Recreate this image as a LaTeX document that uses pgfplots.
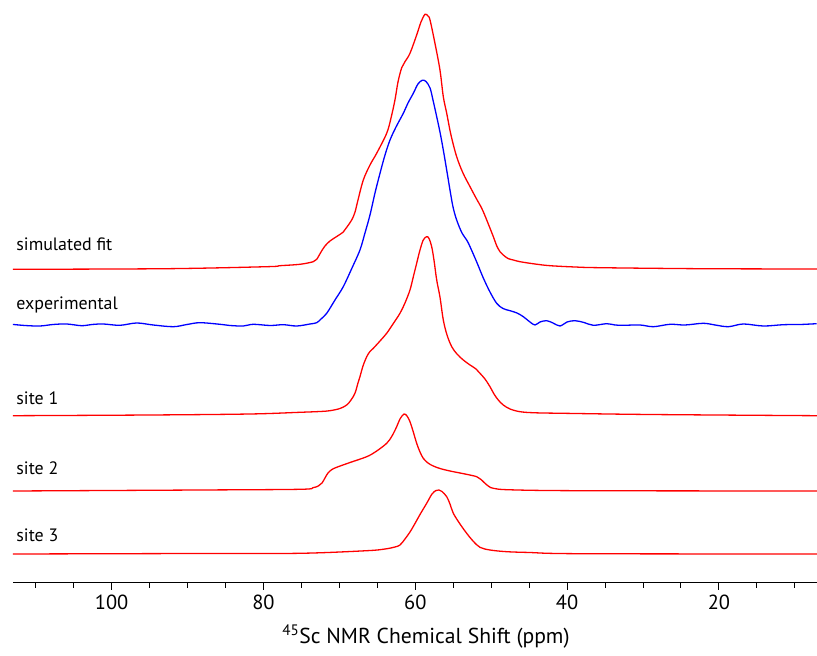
\documentclass[border=0pt]{standalone}
\usepackage{pgfplots}
\pgfplotsset{compat=1.18}
\usepackage{fontspec}
\setmainfont{PT Sans}
\definecolor{specred}{RGB}{255,0,0}
\definecolor{specblue}{RGB}{0,0,255}
\begin{document}
\begin{tikzpicture}
\begin{axis}[
  scale only axis,
  width=804bp, height=582.7bp,
  x dir=reverse,
  xmin=7.08, xmax=113.0,
  ymin=73.3, ymax=656,
  axis x line*=bottom,
  axis y line=none,
  axis line style={line width=1.2bp, black},
  xtick={20,40,60,80,100},
  minor xtick={10,15,25,30,35,45,50,55,65,70,75,85,90,95,105,110},
  tick align=outside,
  major tick length=7bp,
  minor tick length=5bp,
  every tick/.style={black, line width=1bp},
  xtick pos=bottom,
  /pgf/number format/assume math mode=true,
  xticklabel style={font=\fontsize{20.5}{24}\selectfont, yshift=-2bp},
  clip mode=individual,
  every axis plot/.append style={line width=1.3bp, smooth, tension=0.55},
]
% simulated fit
\addplot[specred] coordinates {
(113.00,386.7) (92.75,387.3) (79.58,389.3) (77.83,390.3) (75.19,391.7) (73.44,394.3)
(72.99,396.7) (72.42,404.0) (71.90,410.0) (71.24,415.0) (70.45,419.0) (69.49,424.0)
(69.00,429.0) (68.38,436.0) (67.95,443.7) (67.55,456.0) (66.85,476.0) (65.97,491.0)
(65.09,502.7) (63.77,522.7) (63.20,538.0) (62.68,556.0) (62.28,574.0) (61.79,588.3)
(61.36,594.3) (60.70,602.7) (59.82,621.0) (59.25,634.0) (58.72,641.7) (58.33,640.0)
(58.06,636.0) (57.41,612.7) (56.75,586.0) (56.31,559.3) (55.86,542.7) (55.30,521.0)
(54.55,499.3) (53.72,483.0) (52.79,469.3) (52.00,458.0) (51.25,447.7) (50.59,436.0)
(49.72,419.3) (49.28,410.3) (48.84,404.3) (48.41,401.0) (47.79,397.5) (47.09,396.0)
(46.21,394.3) (44.23,392.0) (42.25,390.3) (38.96,389.0) (35.67,388.3) (22.49,387.3)
(7.08,387.0)
};
% experimental
\addplot[specblue] coordinates {
(113.18,331.7) (111.42,330.5) (109.45,330.0) (107.73,331.5) (105.93,332.0) (103.95,330.3)
(102.60,331.5) (101.11,332.0) (98.91,330.7) (96.71,333.0) (94.52,331.0) (91.88,329.3)
(90.08,331.5) (88.37,333.3) (85.73,331.7) (84.41,330.5) (82.66,330.0) (81.34,331.7)
(79.14,330.5) (77.39,331.3) (75.63,330.0) (73.87,332.0) (72.99,333.3) (72.42,337.0)
(71.67,342.7) (70.58,356.0) (69.49,369.3) (68.34,388.0) (67.29,406.0) (66.63,423.0)
(65.97,441.0) (65.31,463.0) (64.65,482.7) (63.99,501.0) (63.33,516.0) (62.54,529.0)
(61.58,542.7) (60.96,553.0) (60.26,562.7) (59.65,572.0) (59.08,575.7) (58.59,574.5)
(58.06,568.0) (57.67,556.0) (57.18,539.3) (56.75,524.0) (56.31,506.0) (55.82,484.0)
(55.43,466.0) (55.03,449.0) (54.55,436.0) (53.85,423.0) (53.23,416.0) (52.79,409.3)
(51.91,394.0) (51.04,378.0) (50.16,364.0) (49.28,352.7) (48.45,347.5) (47.52,345.3)
(46.60,343.0) (45.77,339.3) (44.89,334.0) (44.23,331.0) (43.57,334.0) (42.69,335.3)
(41.86,333.0) (40.94,330.0) (40.01,334.0) (38.96,335.3) (37.77,333.5) (36.55,330.7)
(34.78,332.3) (33.69,331.0) (32.60,330.7) (30.40,331.0) (28.64,329.3) (26.44,331.7)
(24.47,331.0) (22.06,332.7) (20.51,331.0) (18.76,329.3) (16.79,332.0) (14.15,330.0)
(11.52,331.3) (9.32,331.5) (7.12,332.3)
};
% site 1
\addplot[specred] coordinates {
(113.00,240.3) (94.95,241.0) (81.78,242.0) (75.19,243.7) (72.56,244.5) (71.24,245.3)
(69.92,247.5) (69.04,251.0) (68.47,256.0) (67.95,262.7) (67.55,273.0) (67.29,279.3)
(66.89,290.0) (66.40,299.3) (65.97,304.5) (65.53,307.7) (64.65,315.0) (63.77,322.7)
(62.94,332.0) (62.02,342.7) (61.36,353.0) (60.70,366.0) (60.30,378.0) (59.82,392.7)
(59.38,406.0) (58.95,416.0) (58.50,419.3) (58.19,417.5) (57.84,409.3) (57.54,396.0)
(57.18,376.0) (56.75,359.0) (56.31,336.0) (55.82,321.0) (55.20,309.3) (54.51,302.0)
(53.68,296.0) (52.79,291.0) (52.00,287.0) (51.48,282.7) (50.82,277.0) (50.16,269.3)
(49.63,262.0) (49.07,256.0) (48.41,251.0) (47.52,247.0) (46.21,244.3) (44.23,243.2)
(40.54,242.7) (29.08,241.5) (7.08,240.3)
};
% site 2
\addplot[specred] coordinates {
(113.00,165.0) (88.37,166.0) (75.19,166.7) (73.48,168.3) (72.78,170.0) (72.29,173.0)
(71.90,178.0) (71.50,183.0) (70.98,186.5) (70.36,188.7) (68.60,193.5) (66.40,199.3)
(65.18,204.5) (63.77,212.7) (63.07,220.0) (62.45,229.3) (62.02,237.0) (61.49,242.0)
(61.09,240.0) (60.70,234.3) (60.30,225.0) (59.82,212.7) (59.38,204.0) (58.95,197.7)
(58.33,193.0) (57.63,190.0) (56.75,187.5) (55.43,185.0) (53.45,182.0) (51.91,179.3)
(51.34,176.5) (50.82,172.7) (50.29,169.5) (49.72,167.7) (47.52,166.2) (38.30,165.3)
(7.08,165.0)
};
% site 3
\addplot[specred] coordinates {
(113.00,102.0) (88.37,102.5) (75.19,102.7) (66.40,105.3) (63.99,107.0) (62.68,109.0)
(62.02,111.0) (61.36,117.0) (60.70,124.0) (60.04,132.5) (59.38,141.5) (58.50,152.7)
(57.80,162.0) (57.27,165.5) (56.88,166.0) (56.48,164.5) (55.86,159.3) (55.43,152.0)
(54.99,142.7) (54.11,132.0) (53.23,122.7) (52.40,115.0) (51.48,108.7) (50.16,106.0)
(47.96,104.3) (44.89,103.5) (38.30,102.3) (7.08,102.0)
};
\end{axis}
\begin{scope}[every node/.style={anchor=base west, inner sep=0pt, font=\fontsize{18}{21}\selectfont}]
\node at (3.2bp,332bp) {simulated fit};
\node at (3.2bp,273.4bp) {experimental};
\node at (3.2bp,177.7bp) {site 1};
\node at (3.2bp,108.4bp) {site 2};
\node at (3.2bp,41bp) {site 3};
\end{scope}
\node[anchor=base, inner sep=0pt, font=\fontsize{21.7}{25}\selectfont] at (413bp,-60.3bp) {\textsuperscript{45}Sc NMR Chemical Shift (ppm)};
\pgfresetboundingbox
\path (-13bp,-73.3bp) rectangle (804bp,582.7bp);
\end{tikzpicture}
\end{document}
